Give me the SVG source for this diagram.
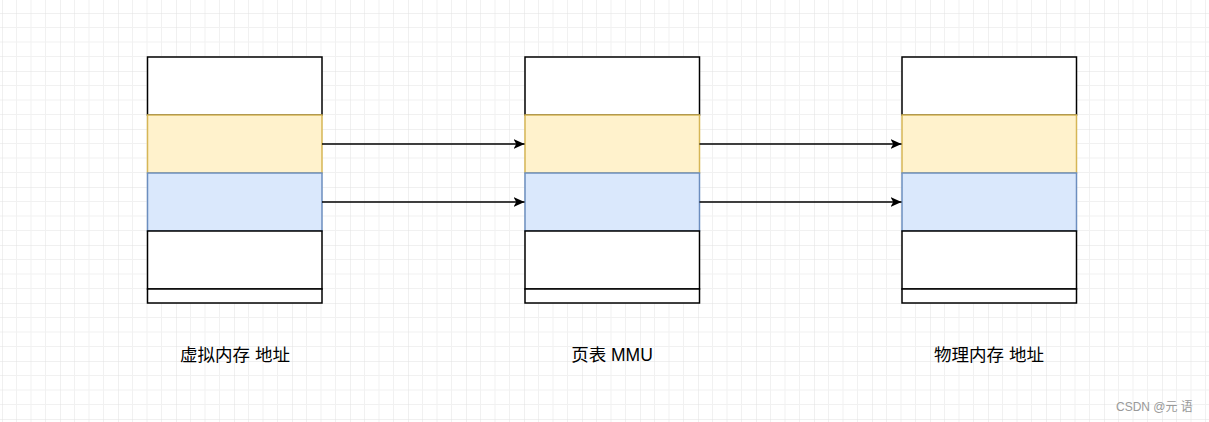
<svg xmlns="http://www.w3.org/2000/svg" width="1209" height="422" viewBox="0 0 1209 422">
  <defs>
    <pattern id="grid" x="2" y="13" width="58" height="58" patternUnits="userSpaceOnUse">
      <path d="M14.5 0V58M29 0V58M43.5 0V58M0 14.5H58M0 29H58M0 43.5H58" stroke="#f1f1f1" stroke-width="1" fill="none"/>
      <path d="M0 0V58M0 0H58" stroke="#e1e1e1" stroke-width="1" fill="none"/>
    </pattern>
    <marker id="arrow" viewBox="0 0 11 10" refX="11" refY="5" markerWidth="11" markerHeight="10" markerUnits="userSpaceOnUse" orient="auto">
      <path d="M0 0L11 5L0 10L2.75 5Z" fill="#000"/>
    </marker>
    <style>
      .w { fill: #ffffff; stroke: #000000; stroke-width: 1.5; }
      .y { fill: #fff2cc; stroke: #d6b656; stroke-width: 1.5; }
      .b { fill: #dae8fc; stroke: #6c8ebf; stroke-width: 1.5; }
      .edge { stroke: #000000; stroke-width: 1.5; fill: none; marker-end: url(#arrow); }
      .lbl { font-family: "Liberation Sans", "Noto Sans CJK SC", sans-serif; font-size: 17.5px; fill: #000; text-anchor: middle; }
      .wm { font-family: "Liberation Sans", "Noto Sans CJK SC", sans-serif; font-size: 12px; fill: #999; }
    </style>
  </defs>
  <rect width="1209" height="422" fill="#ffffff"/>
  <rect width="1209" height="422" fill="url(#grid)"/>

  <g id="virtual">
    <rect class="w" x="147.5" y="57" width="174.5" height="58"/>
    <rect class="y" x="147.5" y="115" width="174.5" height="58"/>
    <rect class="b" x="147.5" y="173" width="174.5" height="58"/>
    <rect class="w" x="147.5" y="231" width="174.5" height="58"/>
    <rect class="w" x="147.5" y="289" width="174.5" height="14"/>
  </g>
  <g id="mmu">
    <rect class="w" x="525" y="57" width="174.5" height="58"/>
    <rect class="y" x="525" y="115" width="174.5" height="58"/>
    <rect class="b" x="525" y="173" width="174.5" height="58"/>
    <rect class="w" x="525" y="231" width="174.5" height="58"/>
    <rect class="w" x="525" y="289" width="174.5" height="14"/>
  </g>
  <g id="physical">
    <rect class="w" x="902" y="57" width="174.5" height="58"/>
    <rect class="y" x="902" y="115" width="174.5" height="58"/>
    <rect class="b" x="902" y="173" width="174.5" height="58"/>
    <rect class="w" x="902" y="231" width="174.5" height="58"/>
    <rect class="w" x="902" y="289" width="174.5" height="14"/>
  </g>

  <g id="connectors">
    <path class="edge" d="M322 144H524.5"/>
    <path class="edge" d="M322 202H524.5"/>
    <path class="edge" d="M699.5 144H901.5"/>
    <path class="edge" d="M699.5 202H901.5"/>
  </g>

  <g id="label-virtual"><text class="lbl" x="235" y="361">虚拟内存 地址</text></g>
  <g id="label-mmu"><text class="lbl" x="612" y="361">页表 MMU</text></g>
  <g id="label-physical"><text class="lbl" x="989" y="361">物理内存 地址</text></g>
  <text class="wm" x="1116" y="411">CSDN @元 语</text>
</svg>
